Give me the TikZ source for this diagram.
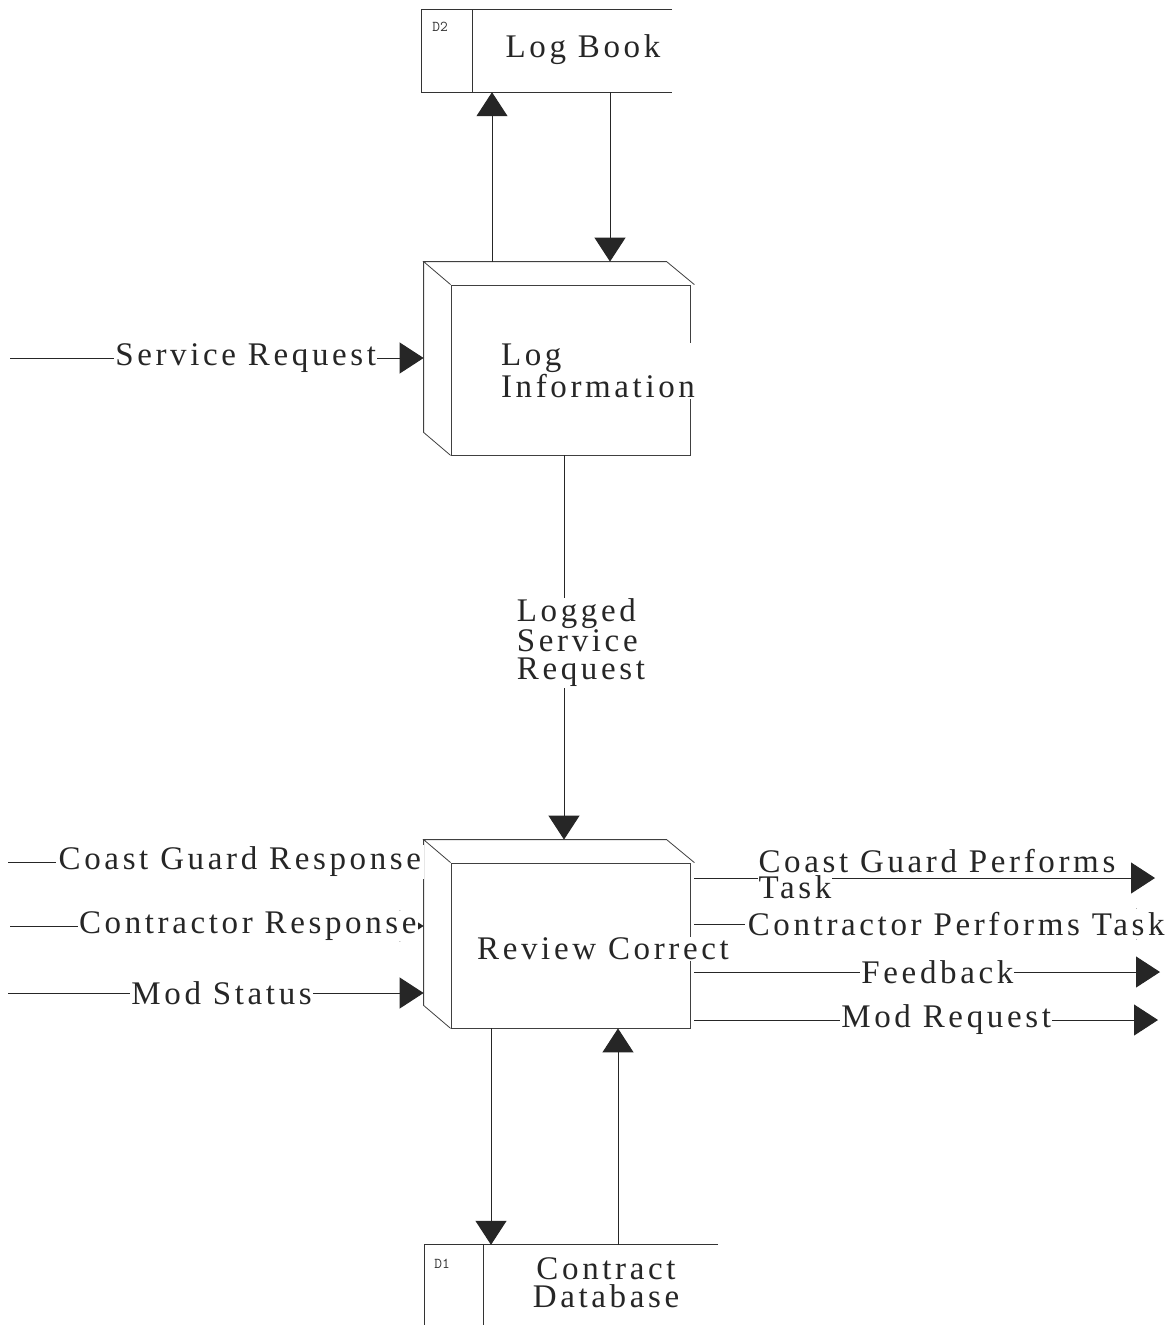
\documentclass[tikz,border=0pt]{standalone}
\usepackage{fontspec}
\setmainfont{Liberation Serif}
\newfontfamily\dfdfont[LetterSpace=11]{Liberation Serif}
\usetikzlibrary{arrows.meta,calc}

\tikzset{
  dfd/.style={font=\dfdfont\fontsize{33}{28}\selectfont, text=black!85, align=left},
  flowlbl/.style={dfd, fill=white, inner sep=1pt},
  tag/.style={font=\ttfamily\fontsize{15}{15}\selectfont, text=black!80},
  proc/.style={draw=black!75, line width=0.8pt, minimum width=239pt, inner sep=0pt},
  store/.style={inner sep=0pt, minimum width=250pt, minimum height=82pt},
  storeline/.style={draw=black!80, line width=1pt},
  flow/.style={draw=black!85, line width=1pt, -{Triangle[length=24pt,width=31pt]}},
}

\newcommand\procdepth[1]{%
  \draw[black!75, line width=0.8pt] (#1.north west) -- ++(-27,-23) coordinate (#1-back) -- ++(243,0) -- ($(#1.north east)+(4,0)$);
  \draw[black!75, line width=0.8pt] (#1-back) -- ($(#1.south west)+(-27,-23)$) -- (#1.south west);
}
\newcommand\storelines[2]{%
  \draw[storeline] (#1.north east) -- (#1.north west) -- (#1.south west) -- (#1.south east);
  \draw[storeline] ([xshift=#2]#1.north west) -- ([xshift=#2]#1.south west);
}

\begin{document}
\begin{tikzpicture}[x=1pt,y=-1pt]
\useasboundingbox[fill=white] (0,0) rectangle (1172,1325);

\node[store] (logBook) at (547,51) {};
\storelines{logBook}{51pt}
\node[tag] (d2) at (440,27) {D2};
\node[dfd] (logBookTxt) at (583,50) {Log Book};

\node[proc, minimum height=170pt] (logInfo) at (570.5,370) {};
\procdepth{logInfo}
\node[flowlbl] (logInfoTxt) at (598,371) {Log\\Information};

\node[proc, minimum height=165pt] (review) at (570.5,945.5) {};
\procdepth{review}
\node[flowlbl] (reviewTxt) at (603,949) {Review Correct};

\node[store, minimum width=293pt, minimum height=100pt] (cdb) at (571.5,1295) {};
\storelines{cdb}{59pt}
\node[tag] (d1) at (442,1264) {D1};
\node[dfd, align=center] (cdbTxt) at (606,1283) {Contract\\Database};

\coordinate (lbUp) at (492,0);
\coordinate (lbDown) at (610,0);
\coordinate (lsr) at (564,0);
\coordinate (cdbDown) at (491,0);
\coordinate (cdbUp) at (618,0);

\draw[flow] (lbUp |- logInfo-back) -- (lbUp |- logBook.south);
\draw[flow] (lbDown |- logBook.south) -- (lbDown |- logInfo-back);
\draw[flow] (lsr |- logInfo.south) -- (lsr |- review-back)
  node[flowlbl, pos=0.488, xshift=17pt] (lsrTxt) {Logged\\Service\\Request};
\draw[flow] (cdbDown |- review.south) -- (cdbDown |- cdb.north);
\draw[flow] (cdbUp |- cdb.north) -- (cdbUp |- review.south);

\coordinate (srIn) at (10,358);
\coordinate (cgrIn) at (8,862);
\coordinate (crIn) at (10,926);
\coordinate (msIn) at (8,993);
\draw[flow] (srIn) -- (srIn -| logInfo-back) node[flowlbl, pos=0.57] (srTxt) {Service Request};
\draw[flow] (cgrIn) -- (cgrIn -| review-back) node[flowlbl, pos=0.558, inner sep=2.5pt] (cgrTxt) {Coast Guard Response};
\draw[flow] (crIn) -- (crIn -| review-back) node[flowlbl, pos=0.575] (crTxt) {Contractor Response};
\draw[flow] (msIn) -- (msIn -| review-back) node[flowlbl, pos=0.514] (msTxt) {Mod Status};

\coordinate (cgOut) at (1155,878);
\coordinate (cpOut) at (1160,924);
\coordinate (fbOut) at (1160,972);
\coordinate (mrOut) at (1158,1020);
\draw[flow, shorten <=4pt] (cgOut -| review.east) -- (cgOut);
\node[flowlbl, anchor=base west, inner sep=0.5pt] (cgTask) at (758,898) {Task};
\node[dfd, anchor=base west] (cgTxt) at (755,872) {Coast Guard Performs};
\draw[flow, shorten <=4pt] (cpOut -| review.east) -- (cpOut) node[flowlbl, pos=0.566, inner sep=3pt] (cpTxt) {Contractor Performs Task};
\draw[flow, shorten <=4pt] (fbOut -| review.east) -- (fbOut) node[flowlbl, pos=0.526] (fbTxt) {Feedback};
\draw[flow, shorten <=4pt] (mrOut -| review.east) -- (mrOut) node[flowlbl, pos=0.547] (mrTxt) {Mod Request};
\end{tikzpicture}
\end{document}
